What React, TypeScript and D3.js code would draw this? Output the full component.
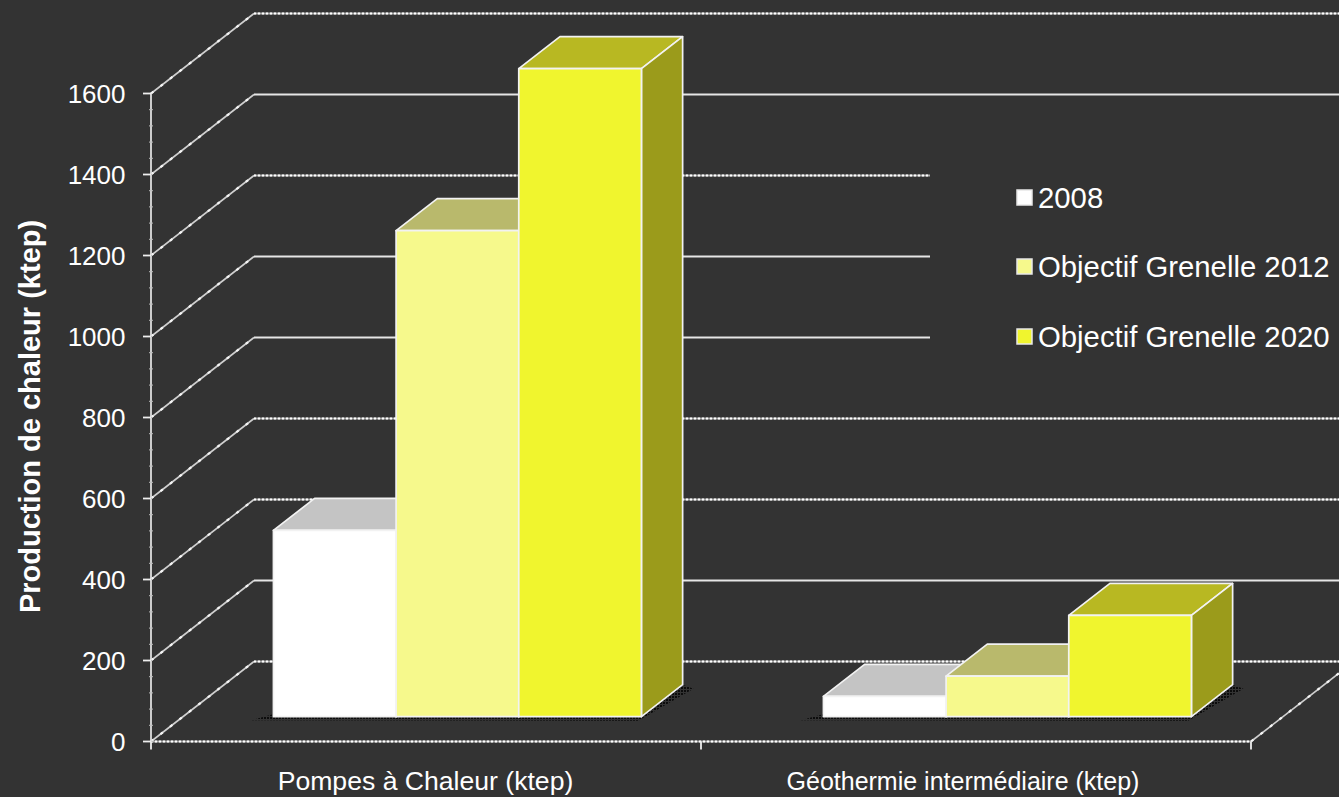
import React from "react";
import * as d3 from "d3";

// Heat production per sector, in ktep
const categories = ["Pompes à Chaleur (ktep)", "Géothermie intermédiaire (ktep)"];
const seriesNames = ["2008", "Objectif Grenelle 2012", "Objectif Grenelle 2020"];
const values2008 = [460, 50];
const values2012 = [1200, 100];
const values2020 = [1600, 250];
const yTicks = [0, 200, 400, 600, 800, 1000, 1200, 1400, 1600];
const yMinorTicks = d3.range(0, 1600, 40);
const speckledLevels = [0, 400, 600, 1200, 1600];

const seriesValues = [values2008, values2012, values2020];
const frontColors = ["#ffffff", "#f6f98c", "#f0f52e"];
const topColors = ["#c4c4c4", "#b9b96c", "#b8b822"];
const sideColors = ["#c4c4c4", "#9b9b60", "#9b9b1b"];
const categoryFontSizes = [26.6, 25];
const categoryLabelX = [425.5, 963];

const W = 1339;
const H = 797;
const BG = "#333333";
const FONT = "'Liberation Sans', Arial, sans-serif";

// Oblique projection of the chart box
const DEPTH_X = 103;
const DEPTH_Y = 80;
const BAR_Z0 = 0.31;
const BAR_Z1 = 0.71;

const xBand = d3.scaleBand<string>().domain(categories).range([151, 1251]);
const yScale = d3.scaleLinear().domain([0, 1600]).range([741.5, 93.5]);
const inner = d3.scaleBand<string>().domain(seriesNames).range([90.5, 458.5]);

const project = (px: number, v: number, z: number): [number, number] => [
  px + z * DEPTH_X,
  yScale(v) - z * DEPTH_Y,
];
const path = (pts: [number, number][]) => (d3.line()(pts) as string) + "Z";
const seg = (pts: [number, number][]) => d3.line()(pts) as string;

// A light rule with fine bright dots on it, as the dithered lines have
function Speckled({ d, width = 1.8 }: { d: string; width?: number }) {
  return (
    <g fill="none">
      <path d={d} stroke="#b0b0b0" strokeWidth={width} />
      <path d={d} stroke="#ffffff" strokeWidth={width} strokeDasharray="2 2" />
    </g>
  );
}

// The receding side-wall lines have an uneven, stepped look
function Diagonal({ d }: { d: string }) {
  return (
    <g fill="none">
      <path d={d} stroke="#cfcfcf" strokeWidth={1.6} />
      <path d={d} stroke="#f4f4f4" strokeWidth={2.2} strokeDasharray="3 9" />
    </g>
  );
}

function Bar({ cat, ci, si }: { cat: string; ci: number; si: number }) {
  const v = seriesValues[si][ci];
  const x0 = (xBand(cat) as number) + (inner(seriesNames[si]) as number);
  const x1 = x0 + inner.bandwidth();
  const f00 = project(x0, 0, BAR_Z0);
  const f10 = project(x1, 0, BAR_Z0);
  const f01 = project(x0, v, BAR_Z0);
  const f11 = project(x1, v, BAR_Z0);
  const b10 = project(x1, 0, BAR_Z1);
  const b01 = project(x0, v, BAR_Z1);
  const b11 = project(x1, v, BAR_Z1);
  return (
    <g stroke="#f2f2f2" strokeWidth={1.7} strokeLinejoin="round">
      <path d={path([f01, f11, b11, b01])} fill={topColors[si]} />
      <path d={path([f10, f11, b11, b10])} fill={sideColors[si]} />
      <path d={path([f00, f10, f11, f01])} fill={frontColors[si]} />
    </g>
  );
}

// Stippled contact shadow around the foot of each group of bars
function FloorShadow({ cat }: { cat: string }) {
  const left = (xBand(cat) as number) + (inner(seriesNames[0]) as number);
  const right = left + inner.bandwidth() * 3;
  const a = project(left - 2, 0, BAR_Z0 + 0.04);
  const b = project(left - 18, 0, BAR_Z0 - 0.045);
  const c = project(right + 2, 0, BAR_Z0 - 0.05);
  const d = project(right + 16, 0, BAR_Z1 - 0.05);
  const e = project(right, 0, BAR_Z1);
  const f = project(right, 0, BAR_Z0);
  return <path d={path([a, b, c, d, e, f])} fill="url(#stipple)" />;
}

export default function App() {
  const gridBack = yTicks.map((t) => {
    const from = project(151, t, 0);
    const corner = project(151, t, 1);
    return { t, diag: seg([from, corner]), rule: seg([corner, [W, corner[1]]]) };
  });
  const axisBottom = yScale(0);
  const rightStart = project(1251, 0, 0);
  const rightEndX = W;
  const rightEndY = rightStart[1] - ((rightEndX - rightStart[0]) * DEPTH_Y) / DEPTH_X;

  return (
    <svg
      width={W}
      height={H}
      viewBox={`0 0 ${W} ${H}`}
      style={{ position: "absolute", left: 0, top: 0, display: "block", background: BG }}
      fontFamily={FONT}
    >
      <defs>
        <pattern id="stipple" width="3" height="3" patternUnits="userSpaceOnUse">
          <rect width="2" height="2" fill="#0c0c0c" />
        </pattern>
      </defs>
      <rect width={W} height={H} fill={BG} />

      {/* back wall rules and their diagonals on the side wall */}
      {gridBack.map(({ t, diag, rule }) => (
        <g key={t}>
          <Diagonal d={diag} />
          {speckledLevels.includes(t) ? (
            <Speckled d={rule} />
          ) : (
            <path d={rule} fill="none" stroke="#e6e6e6" strokeWidth={2} />
          )}
        </g>
      ))}
      <Diagonal d={seg([rightStart, [rightEndX, rightEndY]])} />

      {/* the legend box is opaque and interrupts the rules behind it */}
      <rect x={930} y={130} width={W - 930} height={245} fill={BG} />

      {/* axes */}
      <Speckled d={seg([[151, axisBottom], [1251, axisBottom]])} width={2} />
      <path d={seg([[151, yScale(1600)], [151, axisBottom]])} stroke="#dedede" strokeWidth={1.8} fill="none" />
      {yMinorTicks.map((t) => (
        <path key={t} d={seg([[149, yScale(t)], [153, yScale(t)]])} stroke="#bdbdbd" strokeWidth={1} />
      ))}
      {yTicks.map((t) => (
        <g key={t}>
          <path d={seg([[143, yScale(t)], [151, yScale(t)]])} stroke="#eeeeee" strokeWidth={1.8} />
          <text x={125.5} y={yScale(t) + 9.5} textAnchor="end" fontSize={26} fill="#ffffff">
            {t}
          </text>
        </g>
      ))}
      {[151, 701, 1251].map((x) => (
        <path key={x} d={seg([[x, axisBottom], [x, axisBottom + 8]])} stroke="#eeeeee" strokeWidth={1.8} />
      ))}

      {/* bars */}
      {categories.map((cat) => (
        <FloorShadow key={cat} cat={cat} />
      ))}
      {categories.map((cat, ci) => (
        <g key={cat}>
          {seriesNames.map((s, si) => (
            <Bar key={s} cat={cat} ci={ci} si={si} />
          ))}
        </g>
      ))}

      {/* category labels */}
      {categories.map((cat, i) => (
        <text key={cat} x={categoryLabelX[i]} y={789.5} textAnchor="middle" fontSize={categoryFontSizes[i]} fill="#ffffff">
          {cat}
        </text>
      ))}

      {/* y axis title */}
      <text
        transform="translate(40,416.5) rotate(-90)"
        textAnchor="middle"
        fontSize={29}
        fontWeight="bold"
        fill="#ffffff"
      >
        Production de chaleur (ktep)
      </text>

      {/* legend */}
      {seriesNames.map((s, i) => {
        const cy = [198, 267, 337][i];
        return (
          <g key={s}>
            <rect x={1017} y={cy - 8} width={15} height={15} fill={frontColors[i]} stroke="#e8e8e8" strokeWidth={1.5} />
            <text x={1038} y={cy + 10} fontSize={29.3} fill="#ffffff">
              {s}
            </text>
          </g>
        );
      })}
    </svg>
  );
}
